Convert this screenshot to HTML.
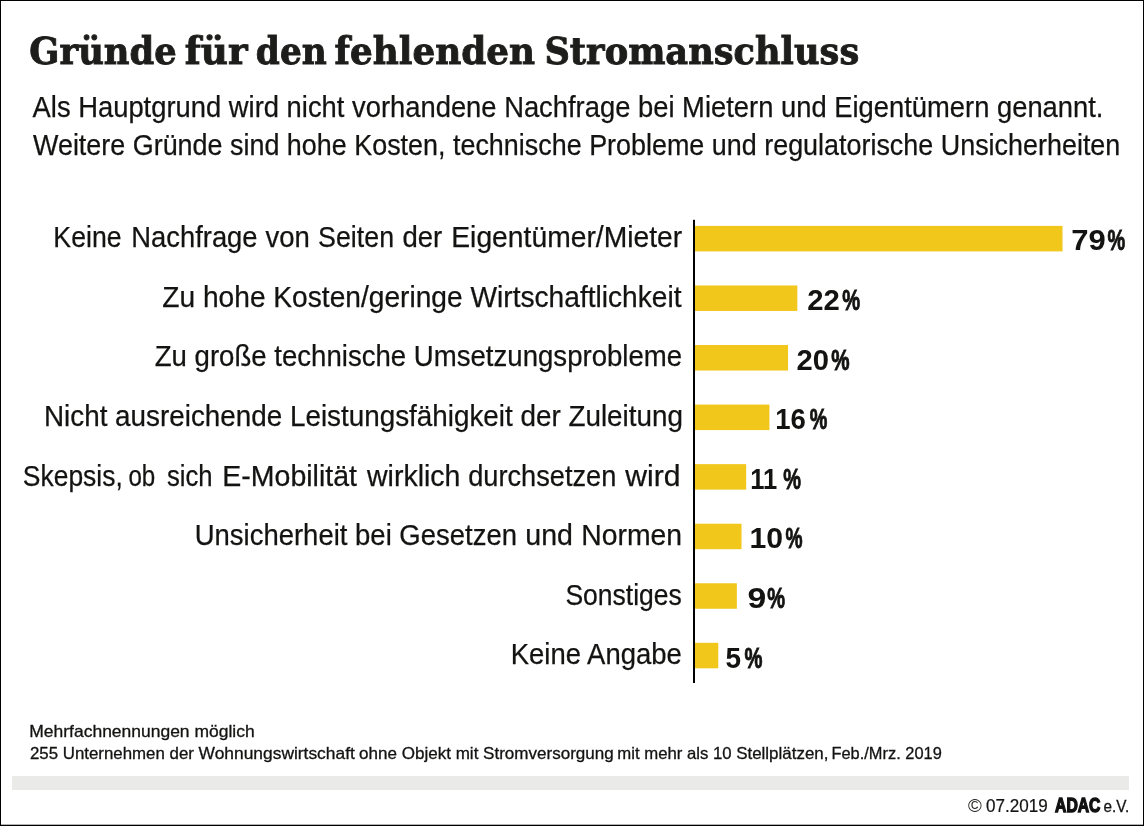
<!DOCTYPE html>
<html lang="de"><head><meta charset="utf-8"><title>Gründe für den fehlenden Stromanschluss</title>
<style>html,body{margin:0;padding:0;background:#fff}body{width:1144px;height:826px;overflow:hidden}svg{display:block}text{white-space:pre}</style></head><body>
<svg width="1144" height="826" viewBox="0 0 1144 826">
<rect x="0" y="0" width="1144" height="826" fill="#fff"/>
<rect x="0.5" y="0.5" width="1143" height="825" fill="none" stroke="#000" stroke-width="1"/>
<rect x="0" y="824.7" width="1144" height="1.3" fill="#000"/>
<rect x="12" y="776" width="1117" height="14" fill="#eaeae8"/>
<rect x="694.50" y="225.90" width="368.00" height="25.5" fill="#f1c71c"/>
<rect x="694.50" y="285.46" width="102.84" height="25.5" fill="#f1c71c"/>
<rect x="694.50" y="345.02" width="93.54" height="25.5" fill="#f1c71c"/>
<rect x="694.50" y="404.58" width="74.93" height="25.5" fill="#f1c71c"/>
<rect x="694.50" y="464.14" width="51.67" height="25.5" fill="#f1c71c"/>
<rect x="694.50" y="523.70" width="47.02" height="25.5" fill="#f1c71c"/>
<rect x="694.50" y="583.26" width="42.37" height="25.5" fill="#f1c71c"/>
<rect x="694.50" y="642.82" width="23.76" height="25.5" fill="#f1c71c"/>
<rect x="693" y="219.8" width="2" height="463.2" fill="#000"/>
<text id="title0" x="29.37" y="64.30" font-family="'DejaVu Serif', serif" font-size="37.4" font-weight="bold" fill="#1d1d1b" textLength="147.36" lengthAdjust="spacingAndGlyphs" stroke="#1d1d1b" stroke-width="0.9">Gründe</text>
<text id="title1" x="184.80" y="64.30" font-family="'DejaVu Serif', serif" font-size="37.4" font-weight="bold" fill="#1d1d1b" textLength="62.85" lengthAdjust="spacingAndGlyphs" stroke="#1d1d1b" stroke-width="0.9">für</text>
<text id="title2" x="255.85" y="64.30" font-family="'DejaVu Serif', serif" font-size="37.4" font-weight="bold" fill="#1d1d1b" textLength="70.94" lengthAdjust="spacingAndGlyphs" stroke="#1d1d1b" stroke-width="0.9">den</text>
<text id="title3" x="334.56" y="64.30" font-family="'DejaVu Serif', serif" font-size="37.4" font-weight="bold" fill="#1d1d1b" textLength="200.59" lengthAdjust="spacingAndGlyphs" stroke="#1d1d1b" stroke-width="0.9">fehlenden</text>
<text id="title4" x="544.44" y="64.30" font-family="'DejaVu Serif', serif" font-size="37.4" font-weight="bold" fill="#1d1d1b" textLength="314.77" lengthAdjust="spacingAndGlyphs" stroke="#1d1d1b" stroke-width="0.9">Stromanschluss</text>
<text id="sub1" x="32.60" y="117.00" font-family="'Liberation Sans', sans-serif" font-size="28.8" font-weight="normal" fill="#131312" textLength="1070.89" lengthAdjust="spacingAndGlyphs" stroke="#131312" stroke-width="0.25">Als Hauptgrund wird nicht vorhandene Nachfrage bei Mietern und Eigentümern genannt.</text>
<text id="sub2" x="33.01" y="154.60" font-family="'Liberation Sans', sans-serif" font-size="28.8" font-weight="normal" fill="#131312" textLength="1087.31" lengthAdjust="spacingAndGlyphs" stroke="#131312" stroke-width="0.25">Weitere Gründe sind hohe Kosten, technische Probleme und regulatorische Unsicherheiten</text>
<text id="lab0_0" x="53.36" y="247.30" font-family="'Liberation Sans', sans-serif" font-size="28.8" font-weight="normal" fill="#131312" textLength="68.17" lengthAdjust="spacingAndGlyphs" stroke="#131312" stroke-width="0.25">Keine</text>
<text id="lab0_1" x="131.33" y="247.30" font-family="'Liberation Sans', sans-serif" font-size="28.8" font-weight="normal" fill="#131312" textLength="126.20" lengthAdjust="spacingAndGlyphs" stroke="#131312" stroke-width="0.25">Nachfrage</text>
<text id="lab0_2" x="265.44" y="247.30" font-family="'Liberation Sans', sans-serif" font-size="28.8" font-weight="normal" fill="#131312" textLength="44.41" lengthAdjust="spacingAndGlyphs" stroke="#131312" stroke-width="0.25">von</text>
<text id="lab0_3" x="318.09" y="247.30" font-family="'Liberation Sans', sans-serif" font-size="28.8" font-weight="normal" fill="#131312" textLength="75.95" lengthAdjust="spacingAndGlyphs" stroke="#131312" stroke-width="0.25">Seiten</text>
<text id="lab0_4" x="402.48" y="247.30" font-family="'Liberation Sans', sans-serif" font-size="28.8" font-weight="normal" fill="#131312" textLength="39.79" lengthAdjust="spacingAndGlyphs" stroke="#131312" stroke-width="0.25">der</text>
<text id="lab0_5" x="451.25" y="247.30" font-family="'Liberation Sans', sans-serif" font-size="28.8" font-weight="normal" fill="#131312" textLength="231.03" lengthAdjust="spacingAndGlyphs" stroke="#131312" stroke-width="0.25">Eigentümer/Mieter</text>
<text id="val0" x="1071.23" y="250.30" font-family="'Liberation Sans', sans-serif" font-size="29.4" font-weight="bold" fill="#131312" textLength="34.52" lengthAdjust="spacingAndGlyphs">79</text>
<text id="pct0" x="1107.48" y="250.30" font-family="'Liberation Sans', sans-serif" font-size="29.4" font-weight="bold" fill="#131312" textLength="17.68" lengthAdjust="spacingAndGlyphs" stroke="#131312" stroke-width="0.9">%</text>
<text id="lab1" x="162.29" y="306.86" font-family="'Liberation Sans', sans-serif" font-size="28.8" font-weight="normal" fill="#131312" textLength="519.26" lengthAdjust="spacingAndGlyphs" stroke="#131312" stroke-width="0.25">Zu hohe Kosten/geringe Wirtschaftlichkeit</text>
<text id="val1" x="807.17" y="309.90" font-family="'Liberation Sans', sans-serif" font-size="29.4" font-weight="bold" fill="#131312" textLength="32.56" lengthAdjust="spacingAndGlyphs">22</text>
<text id="pct1" x="842.25" y="309.90" font-family="'Liberation Sans', sans-serif" font-size="29.4" font-weight="bold" fill="#131312" textLength="17.87" lengthAdjust="spacingAndGlyphs" stroke="#131312" stroke-width="0.9">%</text>
<text id="lab2" x="154.75" y="366.42" font-family="'Liberation Sans', sans-serif" font-size="28.8" font-weight="normal" fill="#131312" textLength="527.37" lengthAdjust="spacingAndGlyphs" stroke="#131312" stroke-width="0.25">Zu große technische Umsetzungsprobleme</text>
<text id="val2" x="796.61" y="369.50" font-family="'Liberation Sans', sans-serif" font-size="29.4" font-weight="bold" fill="#131312" textLength="32.48" lengthAdjust="spacingAndGlyphs">20</text>
<text id="pct2" x="831.32" y="369.50" font-family="'Liberation Sans', sans-serif" font-size="29.4" font-weight="bold" fill="#131312" textLength="18.32" lengthAdjust="spacingAndGlyphs" stroke="#131312" stroke-width="0.9">%</text>
<text id="lab3" x="43.97" y="425.98" font-family="'Liberation Sans', sans-serif" font-size="28.8" font-weight="normal" fill="#131312" textLength="638.92" lengthAdjust="spacingAndGlyphs" stroke="#131312" stroke-width="0.25">Nicht ausreichende Leistungsfähigkeit der Zuleitung</text>
<text id="val3" x="775.22" y="429.10" font-family="'Liberation Sans', sans-serif" font-size="29.4" font-weight="bold" fill="#131312" textLength="30.62" lengthAdjust="spacingAndGlyphs">16</text>
<text id="pct3" x="809.84" y="429.10" font-family="'Liberation Sans', sans-serif" font-size="29.4" font-weight="bold" fill="#131312" textLength="17.59" lengthAdjust="spacingAndGlyphs" stroke="#131312" stroke-width="0.9">%</text>
<text id="lab4_0" x="22.85" y="485.54" font-family="'Liberation Sans', sans-serif" font-size="28.8" font-weight="normal" fill="#131312" textLength="99.94" lengthAdjust="spacingAndGlyphs" stroke="#131312" stroke-width="0.25">Skepsis,</text>
<text id="lab4_1" x="128.42" y="485.54" font-family="'Liberation Sans', sans-serif" font-size="28.8" font-weight="normal" fill="#131312" textLength="26.80" lengthAdjust="spacingAndGlyphs" stroke="#131312" stroke-width="0.25">ob</text>
<text id="lab4_2" x="167.00" y="485.54" font-family="'Liberation Sans', sans-serif" font-size="28.8" font-weight="normal" fill="#131312" textLength="45.64" lengthAdjust="spacingAndGlyphs" stroke="#131312" stroke-width="0.25">sich</text>
<text id="lab4_3" x="222.36" y="485.54" font-family="'Liberation Sans', sans-serif" font-size="28.8" font-weight="normal" fill="#131312" textLength="134.58" lengthAdjust="spacingAndGlyphs" stroke="#131312" stroke-width="0.25">E-Mobilität</text>
<text id="lab4_4" x="366.97" y="485.54" font-family="'Liberation Sans', sans-serif" font-size="28.8" font-weight="normal" fill="#131312" textLength="93.48" lengthAdjust="spacingAndGlyphs" stroke="#131312" stroke-width="0.25">wirklich</text>
<text id="lab4_5" x="468.19" y="485.54" font-family="'Liberation Sans', sans-serif" font-size="28.8" font-weight="normal" fill="#131312" textLength="148.10" lengthAdjust="spacingAndGlyphs" stroke="#131312" stroke-width="0.25">durchsetzen</text>
<text id="lab4_6" x="625.33" y="485.54" font-family="'Liberation Sans', sans-serif" font-size="28.8" font-weight="normal" fill="#131312" textLength="55.28" lengthAdjust="spacingAndGlyphs" stroke="#131312" stroke-width="0.25">wird</text>
<text id="val4" x="750.25" y="488.70" font-family="'Liberation Sans', sans-serif" font-size="29.4" font-weight="bold" fill="#131312" textLength="27.02" lengthAdjust="spacingAndGlyphs">11</text>
<text id="pct4" x="783.24" y="488.70" font-family="'Liberation Sans', sans-serif" font-size="29.4" font-weight="bold" fill="#131312" textLength="17.71" lengthAdjust="spacingAndGlyphs" stroke="#131312" stroke-width="0.9">%</text>
<text id="lab5_0" x="194.66" y="545.10" font-family="'Liberation Sans', sans-serif" font-size="28.8" font-weight="normal" fill="#131312" textLength="322.36" lengthAdjust="spacingAndGlyphs" stroke="#131312" stroke-width="0.25">Unsicherheit bei Gesetzen</text>
<text id="lab5_1" x="525.33" y="545.10" font-family="'Liberation Sans', sans-serif" font-size="28.8" font-weight="normal" fill="#131312" textLength="47.63" lengthAdjust="spacingAndGlyphs" stroke="#131312" stroke-width="0.25">und</text>
<text id="lab5_2" x="581.22" y="545.10" font-family="'Liberation Sans', sans-serif" font-size="28.8" font-weight="normal" fill="#131312" textLength="100.83" lengthAdjust="spacingAndGlyphs" stroke="#131312" stroke-width="0.25">Normen</text>
<text id="val5" x="749.54" y="548.30" font-family="'Liberation Sans', sans-serif" font-size="29.4" font-weight="bold" fill="#131312" textLength="33.59" lengthAdjust="spacingAndGlyphs">10</text>
<text id="pct5" x="785.43" y="548.30" font-family="'Liberation Sans', sans-serif" font-size="29.4" font-weight="bold" fill="#131312" textLength="17.04" lengthAdjust="spacingAndGlyphs" stroke="#131312" stroke-width="0.9">%</text>
<text id="lab6" x="565.40" y="604.66" font-family="'Liberation Sans', sans-serif" font-size="28.8" font-weight="normal" fill="#131312" textLength="116.50" lengthAdjust="spacingAndGlyphs" stroke="#131312" stroke-width="0.25">Sonstiges</text>
<text id="val6" x="747.54" y="607.90" font-family="'Liberation Sans', sans-serif" font-size="29.4" font-weight="bold" fill="#131312" textLength="18.80" lengthAdjust="spacingAndGlyphs">9</text>
<text id="pct6" x="767.31" y="607.90" font-family="'Liberation Sans', sans-serif" font-size="29.4" font-weight="bold" fill="#131312" textLength="17.80" lengthAdjust="spacingAndGlyphs" stroke="#131312" stroke-width="0.9">%</text>
<text id="lab7" x="510.75" y="664.22" font-family="'Liberation Sans', sans-serif" font-size="28.8" font-weight="normal" fill="#131312" textLength="171.06" lengthAdjust="spacingAndGlyphs" stroke="#131312" stroke-width="0.25">Keine Angabe</text>
<text id="val7" x="725.46" y="667.50" font-family="'Liberation Sans', sans-serif" font-size="29.4" font-weight="bold" fill="#131312" textLength="15.54" lengthAdjust="spacingAndGlyphs">5</text>
<text id="pct7" x="744.49" y="667.50" font-family="'Liberation Sans', sans-serif" font-size="29.4" font-weight="bold" fill="#131312" textLength="17.97" lengthAdjust="spacingAndGlyphs" stroke="#131312" stroke-width="0.9">%</text>
<text id="foot1" x="29.30" y="737.00" font-family="'Liberation Sans', sans-serif" font-size="16.5" font-weight="normal" fill="#131312" textLength="225.36" lengthAdjust="spacingAndGlyphs" stroke="#131312" stroke-width="0.3">Mehrfachnennungen möglich</text>
<text id="foot2_0" x="29.96" y="758.80" font-family="'Liberation Sans', sans-serif" font-size="16.5" font-weight="normal" fill="#131312" textLength="163.97" lengthAdjust="spacingAndGlyphs" stroke="#131312" stroke-width="0.3">255 Unternehmen der</text>
<text id="foot2_1" x="198.56" y="758.80" font-family="'Liberation Sans', sans-serif" font-size="16.5" font-weight="normal" fill="#131312" textLength="156.30" lengthAdjust="spacingAndGlyphs" stroke="#131312" stroke-width="0.3">Wohnungswirtschaft</text>
<text id="foot2_2" x="359.10" y="758.80" font-family="'Liberation Sans', sans-serif" font-size="16.5" font-weight="normal" fill="#131312" textLength="254.65" lengthAdjust="spacingAndGlyphs" stroke="#131312" stroke-width="0.3">ohne Objekt mit Stromversorgung</text>
<text id="foot2_3" x="617.36" y="758.80" font-family="'Liberation Sans', sans-serif" font-size="16.5" font-weight="normal" fill="#131312" textLength="114.32" lengthAdjust="spacingAndGlyphs" stroke="#131312" stroke-width="0.3">mit mehr als 10</text>
<text id="foot2_4" x="736.18" y="758.80" font-family="'Liberation Sans', sans-serif" font-size="16.5" font-weight="normal" fill="#131312" textLength="92.25" lengthAdjust="spacingAndGlyphs" stroke="#131312" stroke-width="0.3">Stellplätzen,</text>
<text id="foot2_5" x="831.45" y="758.80" font-family="'Liberation Sans', sans-serif" font-size="16.5" font-weight="normal" fill="#131312" textLength="110.36" lengthAdjust="spacingAndGlyphs" stroke="#131312" stroke-width="0.3">Feb./Mrz. 2019</text>
<text id="copy" x="968.14" y="812.40" font-family="'Liberation Sans', sans-serif" font-size="17.5" font-weight="normal" fill="#1d1d1b" textLength="13.80" lengthAdjust="spacingAndGlyphs">©</text>
<text id="date" x="986.07" y="812.40" font-family="'Liberation Sans', sans-serif" font-size="17.8" font-weight="normal" fill="#131312" textLength="61.68" lengthAdjust="spacingAndGlyphs" stroke="#131312" stroke-width="0.2">07.2019</text>
<text id="adac" x="1055.05" y="811.80" font-family="'Liberation Sans', sans-serif" font-size="20" font-weight="bold" fill="#111" textLength="45.42" lengthAdjust="spacingAndGlyphs" stroke="#111" stroke-width="1.4">ADAC</text>
<text id="ev" x="1103.56" y="812.40" font-family="'Liberation Sans', sans-serif" font-size="16.4" font-weight="normal" fill="#131312" textLength="25.78" lengthAdjust="spacingAndGlyphs" stroke="#131312" stroke-width="0.3">e.V.</text>
</svg></body></html>
